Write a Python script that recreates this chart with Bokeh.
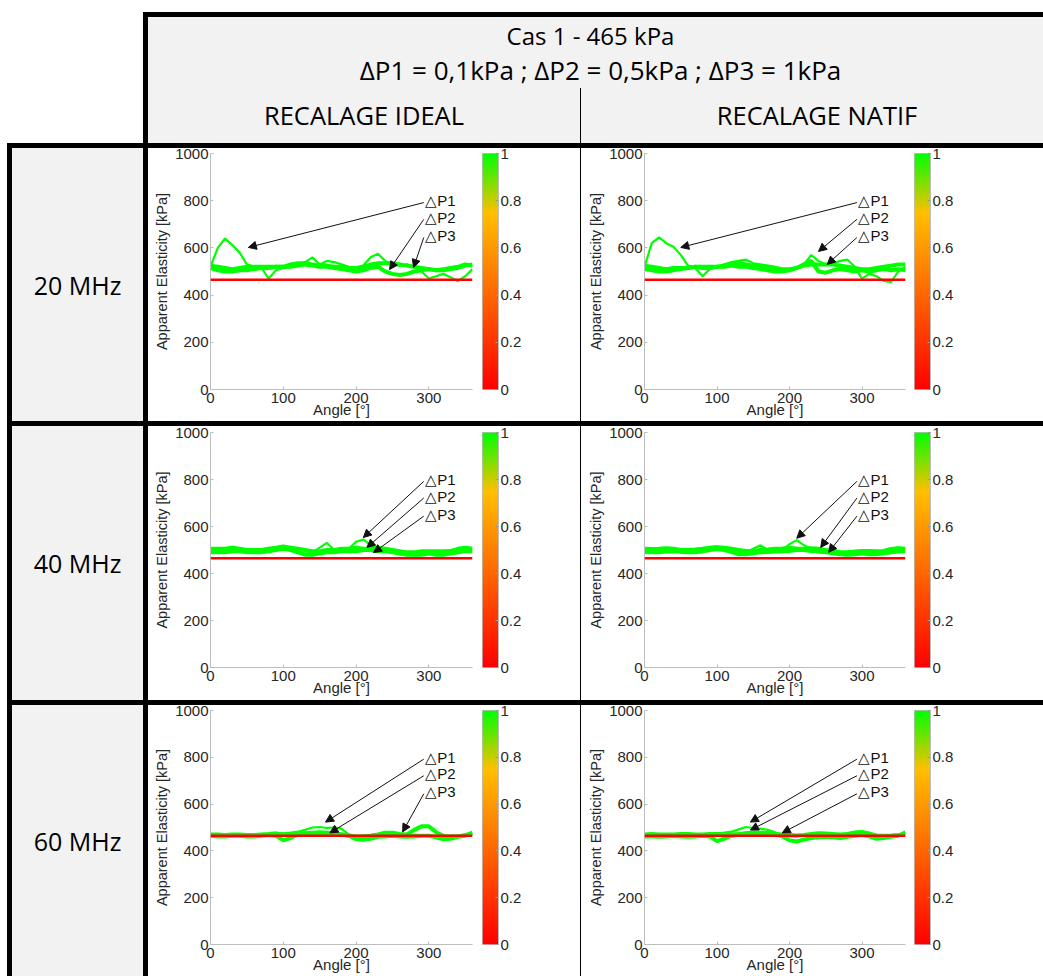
import numpy as np
from bokeh.plotting import figure
from bokeh.layouts import column, row
from bokeh.models import Range1d, FixedTicker, Arrow, NormalHead, Span, BasicTickFormatter, Div
from bokeh.core.properties import value
from bokeh.embed import file_html
from bokeh.resources import INLINE

# ---------------- data ----------------
angles = list(range(0, 361, 10))
reference_kpa = 465
row_labels = ["20 MHz", "40 MHz", "60 MHz"]
col_labels = ["RECALAGE IDEAL", "RECALAGE NATIF"]
title_line1 = "Cas 1 - 465 kPa"
title_line2 = "ΔP1 = 0,1kPa ; ΔP2 = 0,5kPa ; ΔP3 = 1kPa"
annot_texts = ["△P1", "△P2", "△P3"]
x_ticks = [0, 100, 200, 300]
y_ticks = [0, 200, 400, 600, 800, 1000]
cbar_ticks = [0, 0.2, 0.4, 0.6, 0.8, 1]

ideal20_p1 = [520, 600, 640, 612, 580, 530, 520, 515, 470, 505, 515, 520, 525, 540, 560, 530, 545, 540, 530,
              520, 515, 525, 560, 575, 545, 530, 525, 530, 520, 500, 470, 480, 490, 475, 460, 480, 510]
ideal20_p2 = [515, 505, 500, 500, 505, 505, 510, 515, 515, 520, 520, 520, 525, 530, 525, 520, 520, 515, 510,
              505, 500, 505, 515, 520, 500, 490, 485, 490, 500, 505, 510, 505, 505, 510, 515, 525, 530]
ideal20_p3 = [525, 520, 515, 510, 515, 520, 520, 520, 520, 520, 520, 530, 535, 535, 530, 525, 525, 520, 520,
              515, 515, 520, 530, 535, 535, 535, 530, 525, 520, 515, 510, 505, 510, 515, 520, 530, 525]

natif20_p1 = [520, 620, 645, 620, 605, 570, 525, 515, 480, 510, 520, 530, 540, 545, 550, 535, 530, 525, 520,
              510, 505, 515, 530, 570, 545, 530, 535, 545, 550, 520, 470, 490, 480, 460, 455, 500, 520]
natif20_p2 = [510, 505, 500, 500, 505, 510, 515, 520, 515, 515, 520, 520, 525, 520, 520, 515, 510, 505, 500,
              500, 505, 515, 530, 545, 500, 495, 505, 510, 505, 500, 505, 500, 505, 510, 505, 510, 505]
natif20_p3 = [525, 520, 515, 510, 515, 515, 515, 520, 520, 520, 520, 525, 530, 535, 530, 525, 520, 520, 515,
              510, 510, 515, 525, 530, 530, 530, 530, 525, 520, 515, 510, 510, 515, 520, 525, 530, 530]

ideal40_p1 = [500, 495, 500, 505, 500, 495, 495, 500, 505, 510, 515, 505, 495, 485, 490, 510, 530, 500, 495,
              505, 535, 545, 520, 505, 500, 495, 490, 485, 485, 490, 495, 490, 495, 500, 505, 510, 505]
ideal40_p2 = [490, 490, 490, 495, 495, 490, 490, 490, 495, 500, 505, 500, 490, 480, 480, 485, 490, 490, 495,
              495, 495, 500, 500, 495, 495, 490, 485, 480, 480, 480, 485, 480, 480, 485, 490, 495, 495]
ideal40_p3 = [505, 505, 505, 510, 505, 500, 500, 500, 505, 510, 515, 510, 505, 500, 495, 495, 500, 500, 505,
              505, 510, 505, 505, 510, 505, 500, 495, 490, 490, 495, 495, 495, 495, 495, 505, 510, 505]

natif40_p1 = [498, 495, 500, 502, 498, 495, 495, 500, 505, 512, 515, 505, 495, 488, 490, 505, 520, 500, 495,
              500, 525, 542, 520, 505, 500, 495, 490, 485, 485, 488, 492, 490, 494, 498, 505, 510, 505]
natif40_p2 = [492, 490, 490, 494, 495, 492, 490, 490, 494, 500, 504, 500, 492, 482, 482, 486, 490, 492, 494,
              495, 496, 500, 500, 496, 494, 490, 486, 482, 480, 482, 485, 482, 482, 486, 490, 494, 496]
natif40_p3 = [505, 504, 505, 508, 505, 500, 500, 502, 505, 510, 512, 510, 505, 500, 496, 496, 500, 502, 505,
              506, 508, 506, 505, 508, 505, 500, 496, 492, 490, 494, 496, 496, 495, 496, 504, 508, 505]

ideal60_p1 = [468, 468, 466, 468, 468, 470, 468, 466, 468, 472, 475, 478, 482, 490, 500, 502, 498, 500, 495,
              470, 462, 465, 468, 472, 475, 475, 470, 468, 470, 468, 466, 465, 462, 465, 465, 468, 470]
ideal60_p2 = [465, 462, 462, 465, 465, 462, 462, 465, 468, 465, 445, 455, 470, 475, 478, 480, 478, 475, 470,
              465, 450, 448, 452, 460, 462, 465, 462, 460, 462, 465, 465, 458, 450, 452, 460, 465, 478]
ideal60_p3 = [470, 470, 468, 470, 470, 468, 468, 470, 472, 475, 470, 468, 470, 472, 470, 468, 470, 472, 470,
              466, 462, 462, 465, 470, 478, 478, 472, 470, 490, 505, 505, 480, 465, 460, 462, 468, 472]

natif60_p1 = [468, 468, 470, 468, 466, 468, 470, 468, 468, 470, 475, 478, 482, 492, 502, 498, 495, 490, 480,
              468, 462, 462, 466, 470, 472, 472, 470, 470, 475, 482, 485, 478, 468, 462, 465, 468, 472]
natif60_p2 = [462, 462, 460, 462, 464, 462, 460, 462, 465, 462, 442, 452, 465, 470, 475, 478, 478, 476, 472,
              462, 445, 440, 448, 455, 458, 460, 458, 455, 460, 465, 468, 462, 452, 455, 460, 465, 480]
natif60_p3 = [470, 472, 470, 470, 470, 472, 472, 470, 470, 472, 472, 470, 470, 472, 475, 478, 476, 474, 472,
              470, 468, 466, 468, 472, 475, 474, 472, 470, 472, 478, 478, 472, 466, 465, 466, 468, 470]

# arrow targets (angle, kPa) for ΔP1..ΔP3 in each panel
heads_ideal20 = [(52, 602), (246, 508), (279, 517)]
heads_natif20 = [(50, 602), (240, 585), (252, 530)]
heads_ideal40 = [(210, 553), (215, 511), (224, 489)]
heads_natif40 = [(210, 550), (243, 511), (254, 490)]
heads_ideal60 = [(158, 523), (164, 477), (264, 481)]
heads_natif60 = [(146, 523), (146, 489), (190, 477)]

panels = [
    [([ideal20_p1, ideal20_p2, ideal20_p3], heads_ideal20), ([natif20_p1, natif20_p2, natif20_p3], heads_natif20)],
    [([ideal40_p1, ideal40_p2, ideal40_p3], heads_ideal40), ([natif40_p1, natif40_p2, natif40_p3], heads_natif40)],
    [([ideal60_p1, ideal60_p2, ideal60_p3], heads_ideal60), ([natif60_p1, natif60_p2, natif60_p3], heads_natif60)],
]

# ---------------- styles ----------------
GREEN = "#00ff00"
RED = "#ff0000"
AXIS_GRAY = "#bdbdbd"
TXT = "#262626"
CELL_GRAY = "#f2f2f2"
TABLE_FONT = "Open Sans"
PLOT_FONT = "Liberation Sans"
PAGE_W = 1043
NO_MARGIN = (0, 0, 0, 0)


def colormap(n=256):
    cols = []
    for i in range(n):
        t = i / (n - 1)
        if t <= 0.75:
            r, g = 255, int(round(255 * t))
        else:
            s = (t - 0.75) / 0.25
            r, g = int(round(255 * (1 - s))), int(round(191 + 64 * s))
        cols.append("#%02x%02x00" % (r, g))
    return cols


PALETTE = colormap()


def box(left, top, w, h, bg, inner="", extra=""):
    return (f'<div style="position:absolute;left:{left}px;top:{top}px;width:{w}px;height:{h}px;'
            f'background:{bg};{extra}">{inner}</div>')


def centered(font_px):
    return (f"display:flex;align-items:center;justify-content:center;white-space:nowrap;"
            f"font-family:'{TABLE_FONT}';font-size:{font_px}px;line-height:normal;color:black;")


def html_div(w, h, parts):
    inner = "".join(parts)
    return Div(text=f'<div style="position:relative;width:{w}px;height:{h}px;overflow:hidden;">{inner}</div>',
               width=w, height=h, margin=NO_MARGIN, styles={"padding": "0", "margin": "0"})


def bar_div(w, h, background):
    # plain coloured strip (table rule), painted on the element itself
    return Div(text="", width=w, height=h, margin=NO_MARGIN,
               styles={"padding": "0", "margin": "0", "background": background, "overflow": "hidden"})


def plot_panel(curves, heads, w, h, left, top, bottom):
    p = figure(width=w, height=h, x_range=Range1d(0, 360), y_range=Range1d(0, 1000),
               toolbar_location=None, output_backend="svg",
               min_border_left=left, min_border_right=5, min_border_top=top, min_border_bottom=bottom,
               outline_line_color=None, background_fill_color="white", border_fill_color="white",
               margin=NO_MARGIN)
    p.xgrid.visible = False
    p.ygrid.visible = False
    widths = [2.2, 4, 4]
    for s, lw in zip(curves, widths):
        p.line(angles, s, line_color=GREEN, line_width=lw)
    p.add_layout(Span(location=reference_kpa, dimension="width", line_color=RED, line_width=2.5))

    text_y = [800, 729, 652]
    p.text(x=[295] * 3, y=text_y, text=annot_texts, text_font=value(PLOT_FONT),
           text_font_size="15px", text_baseline="middle", text_align="left", text_color="#111111")
    for (hx, hy), ty in zip(heads, text_y):
        p.add_layout(Arrow(end=NormalHead(size=8, fill_color="#111111", line_color="#111111"),
                           x_start=293, y_start=ty - 8, x_end=hx, y_end=hy,
                           line_color="#111111", line_width=1))

    for ax in (p.xaxis[0], p.yaxis[0]):
        ax.axis_line_color = AXIS_GRAY
        ax.major_tick_line_color = AXIS_GRAY
        ax.major_tick_in = 3
        ax.major_tick_out = 0
        ax.minor_tick_line_color = None
        ax.major_label_text_font = PLOT_FONT
        ax.major_label_text_font_size = "15px"
        ax.major_label_text_color = TXT
        ax.axis_label_text_font = PLOT_FONT
        ax.axis_label_text_font_style = "normal"
        ax.axis_label_text_color = TXT
    p.xaxis.ticker = FixedTicker(ticks=x_ticks)
    p.yaxis.ticker = FixedTicker(ticks=y_ticks)
    p.xaxis.major_label_standoff = 3
    p.yaxis.major_label_standoff = 2
    p.yaxis.axis_label = "Apparent Elasticity [kPa]"
    p.yaxis.axis_label_text_font_size = "14.5px"
    p.yaxis.axis_label_standoff = 2
    p.xaxis.axis_label = "Angle [°]"
    p.xaxis.axis_label_text_font_size = "15px"
    p.xaxis.axis_label_standoff = -5
    return p


def cbar_panel(w, h, left, right, top, bottom):
    p = figure(width=w, height=h, x_range=Range1d(0, 1), y_range=Range1d(0, 1),
               x_axis_type=None, y_axis_location="right", toolbar_location=None,
               output_backend="svg", min_border_left=left, min_border_right=right,
               min_border_top=top, min_border_bottom=bottom, outline_line_color=AXIS_GRAY,
               background_fill_color="white", border_fill_color="white", margin=NO_MARGIN)
    p.xgrid.visible = False
    p.ygrid.visible = False
    grad = np.linspace(0, 1, 256).reshape(256, 1)
    p.image(image=[grad], x=0, y=0, dw=1, dh=1, palette=PALETTE)
    ax = p.yaxis[0]
    ax.ticker = FixedTicker(ticks=cbar_ticks)
    ax.formatter = BasicTickFormatter(precision=1)
    ax.major_label_overrides = {0: "0", 1: "1"}
    ax.axis_line_color = AXIS_GRAY
    ax.major_tick_line_color = "#999999"
    ax.major_tick_in = 3
    ax.major_tick_out = 0
    ax.minor_tick_line_color = None
    ax.major_label_standoff = 2
    ax.major_label_text_font = PLOT_FONT
    ax.major_label_text_font_size = "15px"
    ax.major_label_text_color = TXT
    return p


# ---------------- header ----------------
header = html_div(PAGE_W, 143, [
    box(148, 17, 895, 126, CELL_GRAY),
    box(143, 12, 900, 5, "black"),
    box(143, 12, 5, 131, "black"),
    box(580, 88, 1, 55, "black"),
    box(143, 17, 895, 36, "transparent", title_line1, centered(24)),
    box(153, 52, 895, 36, "transparent", title_line2, centered(26)),
    box(148, 97, 432, 36, "transparent", col_labels[0], centered(25.5)),
    box(586, 97, 462, 36, "transparent", col_labels[1], centered(25.5)),
])


def hline():
    return bar_div(PAGE_W, 5, "linear-gradient(to right, #ffffff 7px, #000000 7px)")


# ---------------- body ----------------
row_geo = [  # (cell height, frame top offset, frame bottom offset)
    (273, 5, 32),
    (274, 6, 33),
    (271, 5, 32),
]

items = [header]
for r, (h, ft, fb) in enumerate(row_geo):
    items.append(hline())
    lab = html_div(148, h, [
        box(7, 0, 5, h, "black"),
        box(12, 0, 131, h, CELL_GRAY, row_labels[r], centered(25)),
        box(143, 0, 5, h, "black"),
    ])
    (c1, h1), (c2, h2) = panels[r]
    p1 = plot_panel(c1, h1, 329, h, 62, ft, fb)
    cb1 = cbar_panel(103, h, 5, 82, ft, fb)
    div = bar_div(1, h, "#000000")
    p2 = plot_panel(c2, h2, 329, h, 63, ft, fb)
    cb2 = cbar_panel(133, h, 4, 113, ft, fb)
    items.append(row(lab, p1, cb1, div, p2, cb2, spacing=0, margin=NO_MARGIN))

layout = column(*items, spacing=0, margin=NO_MARGIN)
open("out.html", "w").write(file_html(layout, INLINE))
